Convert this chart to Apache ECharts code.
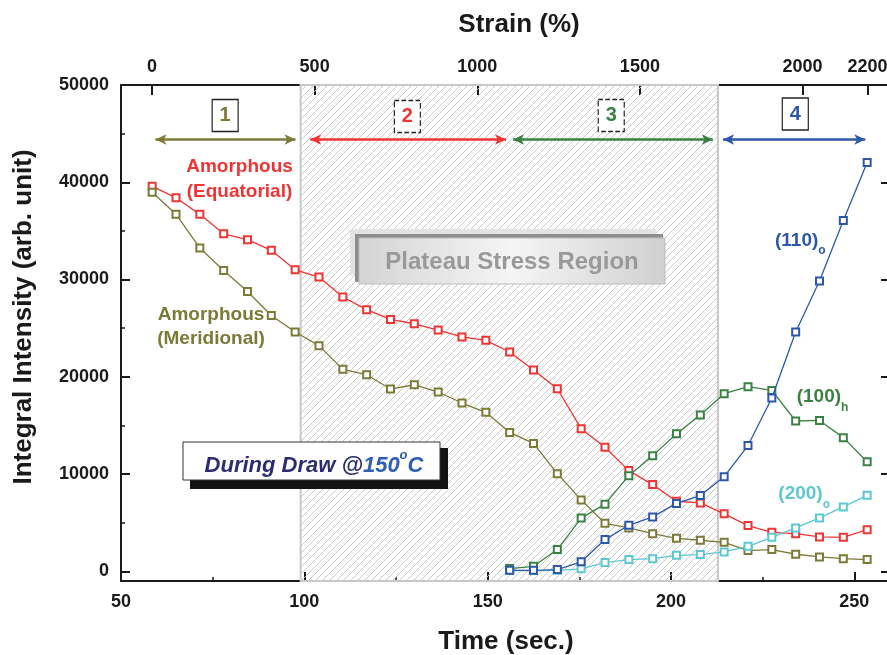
<!DOCTYPE html>
<html><head><meta charset="utf-8">
<script src="https://cdn.jsdelivr.net/npm/echarts@6/dist/echarts.min.js"></script>
<style>html,body{margin:0;padding:0;background:#fff}#c{width:887px;height:655px}</style>
</head><body><div id="c"></div>
<script>
// ---- data ----
const timeSec = [58.5, 65, 71.5, 78, 84.5, 91, 97.5, 104, 110.5, 117, 123.5, 130, 136.5, 143, 149.5,
  156, 162.5, 169, 175.5, 182, 188.5, 195, 201.5, 208, 214.5, 221, 227.5, 234, 240.5, 247, 253.5];
const amorphousEquatorial = [39600, 38400, 36700, 34700, 34100, 33000, 31000, 30250, 28200, 26900, 25900, 25450, 24800, 24100, 23750,
  22550, 20700, 18770, 14660, 12750, 10350, 8910, 7200, 7030, 5910, 4700, 4010, 3870, 3530, 3490, 4280];
const amorphousMeridional = [38980, 36720, 33230, 30930, 28770, 26300, 24600, 23200, 20760, 20210, 18740, 19180, 18430, 17300, 16340,
  14280, 13150, 10040, 7340, 4930, 4460, 3870, 3390, 3190, 2980, 2130, 2230, 1750, 1480, 1300, 1200];
// crystalline reflections appear from t = 156 s on
const crystalTime = timeSec.slice(15);
const peak110o = [100, 100, 170, 970, 3260, 4730, 5590, 6980, 7780, 9730, 12930, 17820, 24600, 29840, 36060, 42020];
const peak100h = [280, 510, 2230, 5470, 6900, 9830, 11890, 14150, 16070, 18260, 18980, 18600, 15450, 15510, 13740, 11270];
const peak200o = [70, 70, 100, 250, 900, 1200, 1300, 1640, 1720, 1990, 2570, 3490, 4460, 5490, 6620, 7810];

const strainTicks = [0, 500, 1000, 1500, 2000, 2200];
const intensityTicks = [0, 10000, 20000, 30000, 40000, 50000];
const intensityMinorTicks = [5000, 15000, 25000, 35000, 45000];
const plateauRange = [99, 212.8];
const stageNames = ['1', '2', '3', '4'];
const stageArrowX = [[59.4, 97.6], [101.6, 155.0], [156.9, 211.4], [214.2, 253.0]];
const stageArrowY = 44400;
const stageBoxPos = [[78.4, 46870], [128.1, 46770], [183.7, 46870], [233.9, 47010]];
const stageDashed = [false, true, true, false];

// ---- styles ----
const FF = '"Liberation Sans", Arial, Helvetica, sans-serif';
const C_RED = '#ee3535', C_OLIVE = '#7d7a38', C_GREEN = '#3a8244', C_BLUE = '#2d58aa', C_CYAN = '#5ec8d2';
const stageColors = [C_OLIVE, C_RED, C_GREEN, C_BLUE];
const AX = '#1a1a1a';

function hatchCanvas() {
  const s = 7, c = document.createElement('canvas');
  c.width = s; c.height = s;
  const g = c.getContext('2d');
  g.strokeStyle = '#c4c4c4'; g.lineWidth = 0.9;
  g.beginPath();
  g.moveTo(0, s); g.lineTo(s, 0);
  g.moveTo(-1, 1); g.lineTo(1, -1);
  g.moveTo(s - 1, s + 1); g.lineTo(s + 1, s - 1);
  g.stroke();
  return c;
}
const pair = (xs, ys) => xs.map((x, i) => [x, ys[i]]);
const plain = v => String(v);

function lineSeries(name, xs, ys, color, z) {
  return {
    name, type: 'line', xAxisIndex: 0, yAxisIndex: 0, data: pair(xs, ys),
    symbol: 'emptyRect', symbolSize: 7, z,
    lineStyle: { color, width: 1.3 },
    itemStyle: { color, borderColor: color, borderWidth: 1.3 },
    emphasis: { disabled: true }
  };
}

const tickLabel = { fontSize: 18, fontWeight: 'bold', color: AX, fontFamily: FF, formatter: plain };
const titleStyle = { fontSize: 26, fontWeight: 'bold', color: AX, fontFamily: FF };

const eq = lineSeries('Amorphous (Equatorial)', timeSec, amorphousEquatorial, C_RED, 3);
eq.markArea = {
  silent: true, z: 1,
  itemStyle: { color: { image: hatchCanvas(), repeat: 'repeat' }, borderColor: '#c8c8c8', borderWidth: 2 },
  data: [[{ xAxis: plateauRange[0] }, { xAxis: plateauRange[1] }]]
};
eq.markLine = {
  silent: true, symbol: ['arrow', 'arrow'], symbolSize: [8, 11], label: { show: false },
  emphasis: { disabled: true },
  data: stageArrowX.map((a, i) => [
    { coord: [a[0], stageArrowY], lineStyle: { color: stageColors[i], width: 2.5, type: 'solid' }, itemStyle: { color: stageColors[i] } },
    { coord: [a[1], stageArrowY], lineStyle: { color: stageColors[i], width: 2.5, type: 'solid' }, itemStyle: { color: stageColors[i] } }
  ])
};
eq.markPoint = {
  silent: true, symbol: 'rect', symbolSize: [26, 32],
  data: stageBoxPos.map((p, i) => ({
    coord: p, name: stageNames[i],
    itemStyle: { color: '#fff', borderColor: '#222', borderWidth: 1.3, borderType: stageDashed[i] ? 'dashed' : 'solid' },
    label: { show: true, position: 'inside', formatter: '{b}', color: stageColors[i], fontSize: 20, fontWeight: 'bold', fontFamily: FF }
  }))
};

const chart = echarts.init(document.getElementById('c'), null, { renderer: 'canvas' });
chart.setOption({
  animation: false,
  backgroundColor: '#fff',
  grid: { left: 121, top: 85, width: 770, height: 496, containLabel: false, outerBoundsMode: 'none' },
  xAxis: [
    {
      type: 'value', position: 'bottom', min: 50, max: 260, interval: 50,
      axisLine: { show: true, onZero: false, lineStyle: { color: AX, width: 2 } },
      axisTick: { show: true, inside: true, length: 9, lineStyle: { color: AX, width: 2 } },
      minorTick: { show: true, splitNumber: 2, length: 4, lineStyle: { color: AX, width: 1.5 } },
      axisLabel: Object.assign({ showMaxLabel: false, margin: 12 }, tickLabel),
      splitLine: { show: false }, minorSplitLine: { show: false },
      name: 'Time (sec.)', nameLocation: 'middle', nameGap: 48, nameTextStyle: titleStyle
    },
    {
      type: 'value', position: 'top', min: -95.3, max: 2272,
      axisLine: { show: true, onZero: false, lineStyle: { color: AX, width: 2 } },
      axisTick: { show: true, inside: true, length: 10, customValues: strainTicks, lineStyle: { color: AX, width: 2 } },
      axisLabel: Object.assign({ margin: 9, customValues: strainTicks }, tickLabel),
      splitLine: { show: false },
      name: 'Strain (%)', nameLocation: 'middle', nameGap: 47,
      nameTextStyle: Object.assign({ padding: [0, 0, 0, 26] }, titleStyle)
    }
  ],
  yAxis: [
    {
      type: 'value', position: 'left', min: -1000, max: 50000,
      axisLine: { show: true, onZero: false, lineStyle: { color: AX, width: 2 } },
      axisTick: { show: true, inside: true, length: 9, customValues: intensityTicks, lineStyle: { color: AX, width: 2 } },
      axisLabel: Object.assign({ margin: 12, customValues: intensityTicks }, tickLabel),
      splitLine: { show: false },
      name: 'Integral Intensity (arb. unit)', nameLocation: 'middle', nameGap: 84,
      nameTextStyle: Object.assign({ padding: [0, 0, 0, 32] }, titleStyle)
    },
    {
      type: 'value', position: 'right', min: -1000, max: 50000,
      axisLine: { show: true, onZero: false, lineStyle: { color: AX, width: 2 } },
      axisTick: { show: true, inside: true, length: 10, customValues: intensityTicks, lineStyle: { color: AX, width: 2 } },
      axisLabel: { show: false }, splitLine: { show: false }
    },
    {
      type: 'value', position: 'left', min: -1000, max: 50000,
      axisLine: { show: false, onZero: false },
      axisTick: { show: true, inside: true, length: 4, customValues: intensityMinorTicks, lineStyle: { color: AX, width: 1.5 } },
      axisLabel: { show: false }, splitLine: { show: false }
    }
  ],
  series: [
    eq,
    lineSeries('Amorphous (Meridional)', timeSec, amorphousMeridional, C_OLIVE, 3),
    lineSeries('(200)o', crystalTime, peak200o, C_CYAN, 4),
    lineSeries('(100)h', crystalTime, peak100h, C_GREEN, 4),
    lineSeries('(110)o', crystalTime, peak110o, C_BLUE, 5)
  ],
  graphic: [
    { type: 'text', z: 100, style: { text: 'Amorphous\n(Equatorial)', x: 239.5, y: 179, align: 'center', verticalAlign: 'middle', textAlign: 'center', textVerticalAlign: 'middle', fill: C_RED, fontSize: 19, fontWeight: 'bold', fontFamily: FF, lineHeight: 25 } },
    { type: 'text', z: 100, style: { text: 'Amorphous\n(Meridional)', x: 211, y: 327, align: 'center', verticalAlign: 'middle', textAlign: 'center', textVerticalAlign: 'middle', fill: C_OLIVE, fontSize: 19, fontWeight: 'bold', fontFamily: FF, lineHeight: 24 } },
    { type: 'text', z: 100, style: { text: '{a|(110)}{s|o}', x: 775, y: 244, align: 'left', verticalAlign: 'middle', textAlign: 'left', textVerticalAlign: 'middle', fill: C_BLUE, fontFamily: FF, fontWeight: 'bold',
      rich: { a: { fontSize: 19, fontWeight: 'bold', fontFamily: FF, lineHeight: 26, verticalAlign: 'top' }, s: { fontSize: 12, fontWeight: 'bold', fontFamily: FF, verticalAlign: 'bottom' } } } },
    { type: 'text', z: 100, style: { text: '{a|(100)}{s|h}', x: 796.7, y: 400.7, align: 'left', verticalAlign: 'middle', textAlign: 'left', textVerticalAlign: 'middle', fill: C_GREEN, fontFamily: FF, fontWeight: 'bold',
      rich: { a: { fontSize: 19, fontWeight: 'bold', fontFamily: FF, lineHeight: 26, verticalAlign: 'top' }, s: { fontSize: 12, fontWeight: 'bold', fontFamily: FF, verticalAlign: 'bottom' } } } },
    { type: 'text', z: 100, style: { text: '{a|(200)}{s|o}', x: 778.3, y: 497.3, align: 'left', verticalAlign: 'middle', textAlign: 'left', textVerticalAlign: 'middle', fill: C_CYAN, fontFamily: FF, fontWeight: 'bold',
      rich: { a: { fontSize: 19, fontWeight: 'bold', fontFamily: FF, lineHeight: 26, verticalAlign: 'top' }, s: { fontSize: 12, fontWeight: 'bold', fontFamily: FF, verticalAlign: 'bottom' } } } },
    // Plateau Stress Region box
    { type: 'rect', z: 100, shape: { x: 350, y: 229, width: 306, height: 46 }, style: { fill: '#e3e3e3' } },
    { type: 'rect', z: 101, shape: { x: 355, y: 234, width: 308, height: 48 }, style: { fill: '#8e8e8e' } },
    { type: 'rect', z: 102, shape: { x: 359, y: 238, width: 306, height: 46 },
      style: { fill: new echarts.graphic.LinearGradient(0, 0, 1, 0, [{ offset: 0, color: '#d4d4d4' }, { offset: 0.5, color: '#f5f5f5' }, { offset: 1, color: '#d0d0d0' }]), stroke: '#bdbdbd', lineWidth: 1 } },
    { type: 'text', z: 103, style: { text: 'Plateau Stress Region', x: 512, y: 262, align: 'center', verticalAlign: 'middle', textAlign: 'center', textVerticalAlign: 'middle', fill: '#999999', fontSize: 24, fontWeight: 'bold', fontFamily: FF } },
    // During Draw box
    { type: 'rect', z: 100, shape: { x: 190, y: 448, width: 258, height: 41 }, style: { fill: '#141414' } },
    { type: 'rect', z: 101, shape: { x: 183, y: 442, width: 257, height: 38 }, style: { fill: '#fff', stroke: '#333', lineWidth: 1 } },
    { type: 'text', z: 102, style: { text: '{n|During Draw @}{b|150}{u|o}{b|C}', x: 314, y: 463, align: 'center', verticalAlign: 'middle', textAlign: 'center', textVerticalAlign: 'middle', fontFamily: FF, fontWeight: 'bold', fontStyle: 'italic',
      rich: {
        n: { fill: '#2b2d6e', color: '#2b2d6e', fontSize: 22, fontWeight: 'bold', fontStyle: 'italic', fontFamily: FF, lineHeight: 28, verticalAlign: 'bottom' },
        b: { fill: '#2f5fb0', color: '#2f5fb0', fontSize: 22, fontWeight: 'bold', fontStyle: 'italic', fontFamily: FF, lineHeight: 28, verticalAlign: 'bottom' },
        u: { fill: '#2f5fb0', color: '#2f5fb0', fontSize: 13, fontWeight: 'bold', fontStyle: 'italic', fontFamily: FF, verticalAlign: 'top' }
      } } }
  ]
});
</script></body></html>
